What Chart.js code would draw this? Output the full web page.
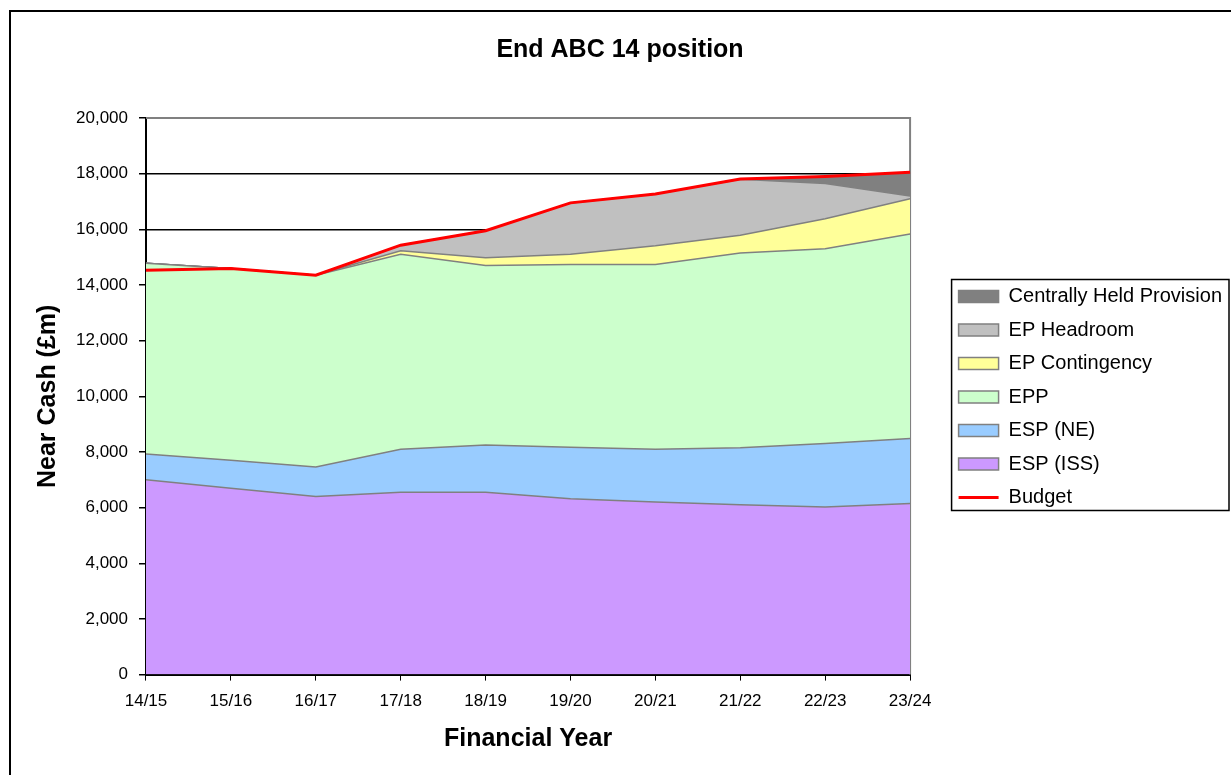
<!DOCTYPE html>
<html>
<head>
<meta charset="utf-8">
<title>End ABC 14 position</title>
<script src="https://cdn.jsdelivr.net/npm/chart.js@4"></script>
<style>
    html, body { margin: 0; padding: 0; background: #fff; overflow: hidden; }
    #frame {
        position: absolute; left: 9px; top: 10px; width: 1300px; height: 800px;
        border-left: 2px solid #000; border-top: 2px solid #000;
    }
    #wrap { position: absolute; left: 0; top: 0; width: 1231px; height: 775px; }
</style>
</head>
<body>
<div id="frame"></div>
<div id="wrap"><canvas id="abcChart"></canvas></div>
<script>
// Financial years on the x axis
const years = ['14/15', '15/16', '16/17', '17/18', '18/19', '19/20', '20/21', '21/22', '22/23', '23/24'];

// Stacked components, £m
const espIss = [7000, 6700, 6400, 6550, 6550, 6320, 6200, 6100, 6020, 6150];
const espNe = [930, 1000, 1060, 1550, 1700, 1850, 1900, 2050, 2280, 2330];
const epp = [6850, 6890, 6890, 7000, 6450, 6570, 6640, 7000, 7000, 7350];
const epContingency = [0, 0, 0, 130, 280, 360, 670, 640, 1080, 1270];
const epHeadroom = [0, 0, 0, 200, 970, 1850, 1860, 2010, 1270, 100];
const centralProvision = [0, 0, 0, 0, 0, 0, 0, 0, 250, 840];

// Budget line, £m
const budget = [14530, 14590, 14350, 15430, 15950, 16950, 17270, 17810, 17900, 18050];

// Legend order as shown on the chart (top to bottom)
const legendOrder = ['Centrally Held Provision', 'EP Headroom', 'EP Contingency', 'EPP', 'ESP (NE)', 'ESP (ISS)', 'Budget'];

Chart.defaults.font.family = "Arial, 'Liberation Sans', sans-serif";
Chart.defaults.color = '#000';

const edgeGrey = '#808080';

function area(label, data, colour, fill) {
    return {
        label: label,
        data: data,
        backgroundColor: colour,
        borderColor: edgeGrey,
        borderWidth: 1.5,
        fill: fill,
        stack: 'cash',
        pointRadius: 0,
        pointStyle: 'rect',
        tension: 0,
        order: 1
    };
}

// Nudges title and legend into place and draws the legend box
const legendBox = {
    id: 'legendBox',
    afterLayout(chart) {
        const lg = chart.legend;
        lg.left += 35;
        lg.right += 35;
        lg.top += 13;
        lg.bottom += 13;
        if (chart.titleBlock) {
            chart.titleBlock.left += 5;
            chart.titleBlock.right += 5;
        }
    },
    afterDraw(chart) {
        const lg = chart.legend;
        const boxes = lg.legendHitBoxes;
        if (!boxes || !boxes.length) return;
        let left = Infinity, right = -Infinity, top = Infinity, bottom = -Infinity;
        boxes.forEach(b => {
            left = Math.min(left, b.left);
            right = Math.max(right, b.left + b.width);
            top = Math.min(top, b.top);
            bottom = Math.max(bottom, b.top + b.height);
        });
        const ctx = chart.ctx;
        ctx.save();
        ctx.strokeStyle = '#000';
        ctx.lineWidth = 1.5;
        ctx.strokeRect(left - 7, top - 7, right - left + 14, bottom - top + 10);
        ctx.restore();
    }
};

// Grey frame on the top and right of the plot area
const plotFrame = {
    id: 'plotFrame',
    beforeDatasetsDraw(chart) {
        const a = chart.chartArea;
        const ctx = chart.ctx;
        ctx.save();
        ctx.strokeStyle = edgeGrey;
        ctx.lineWidth = 2;
        ctx.beginPath();
        ctx.moveTo(a.left, a.top);
        ctx.lineTo(a.right, a.top);
        ctx.lineTo(a.right, a.bottom);
        ctx.stroke();
        ctx.restore();
    }
};

new Chart(document.getElementById('abcChart'), {
    type: 'line',
    data: {
        labels: years,
        datasets: [
            area('ESP (ISS)', espIss, '#CC99FF', 'origin'),
            area('ESP (NE)', espNe, '#99CCFF', '-1'),
            area('EPP', epp, '#CCFFCC', '-1'),
            area('EP Contingency', epContingency, '#FFFF99', '-1'),
            area('EP Headroom', epHeadroom, '#C0C0C0', '-1'),
            area('Centrally Held Provision', centralProvision, '#808080', '-1'),
            {
                label: 'Budget',
                data: budget,
                borderColor: '#FF0000',
                backgroundColor: '#FF0000',
                borderWidth: 3,
                fill: false,
                stack: 'budget',
                pointRadius: 0,
                pointStyle: 'line',
                tension: 0,
                order: 0
            }
        ]
    },
    options: {
        responsive: true,
        maintainAspectRatio: false,
        animation: false,
        layout: { padding: { left: 33, right: 34, top: 10, bottom: 17 } },
        plugins: {
            title: {
                display: true,
                text: 'End ABC 14 position',
                font: { size: 25, weight: 'bold' },
                color: '#000',
                padding: { top: 25, bottom: 53 }
            },
            legend: {
                position: 'right',
                labels: {
                    usePointStyle: true,
                    pointStyleWidth: 40,
                    boxWidth: 40,
                    boxHeight: 12,
                    padding: 13.5,
                    font: { size: 20 },
                    color: '#000',
                    sort: (a, b) => legendOrder.indexOf(a.text) - legendOrder.indexOf(b.text)
                }
            },
            tooltip: { enabled: false }
        },
        scales: {
            x: {
                offset: false,
                title: {
                    display: true,
                    text: 'Financial Year',
                    font: { size: 25, weight: 'bold' },
                    color: '#000',
                    padding: { top: 1, bottom: 4 }
                },
                grid: { drawOnChartArea: false, drawTicks: true, tickLength: 6, tickColor: '#000' },
                border: { color: '#000', width: 2 },
                ticks: { font: { size: 17 }, color: '#000', padding: 11, maxRotation: 0, autoSkip: false }
            },
            y: {
                stacked: true,
                min: 0,
                max: 20000,
                title: {
                    display: true,
                    text: 'Near Cash (£m)',
                    font: { size: 25, weight: 'bold' },
                    color: '#000',
                    padding: { top: 0, bottom: 2 }
                },
                grid: {
                    color: ctx => (ctx.tick && ctx.tick.value === 20000 ? edgeGrey : '#000'),
                    lineWidth: 1.5,
                    tickLength: 7,
                    tickColor: '#000'
                },
                border: { color: '#000', width: 2 },
                ticks: {
                    stepSize: 2000,
                    font: { size: 17 },
                    color: '#000',
                    padding: 11,
                    callback: v => v.toLocaleString('en-GB')
                }
            }
        }
    },
    plugins: [legendBox, plotFrame]
});
</script>
</body>
</html>
